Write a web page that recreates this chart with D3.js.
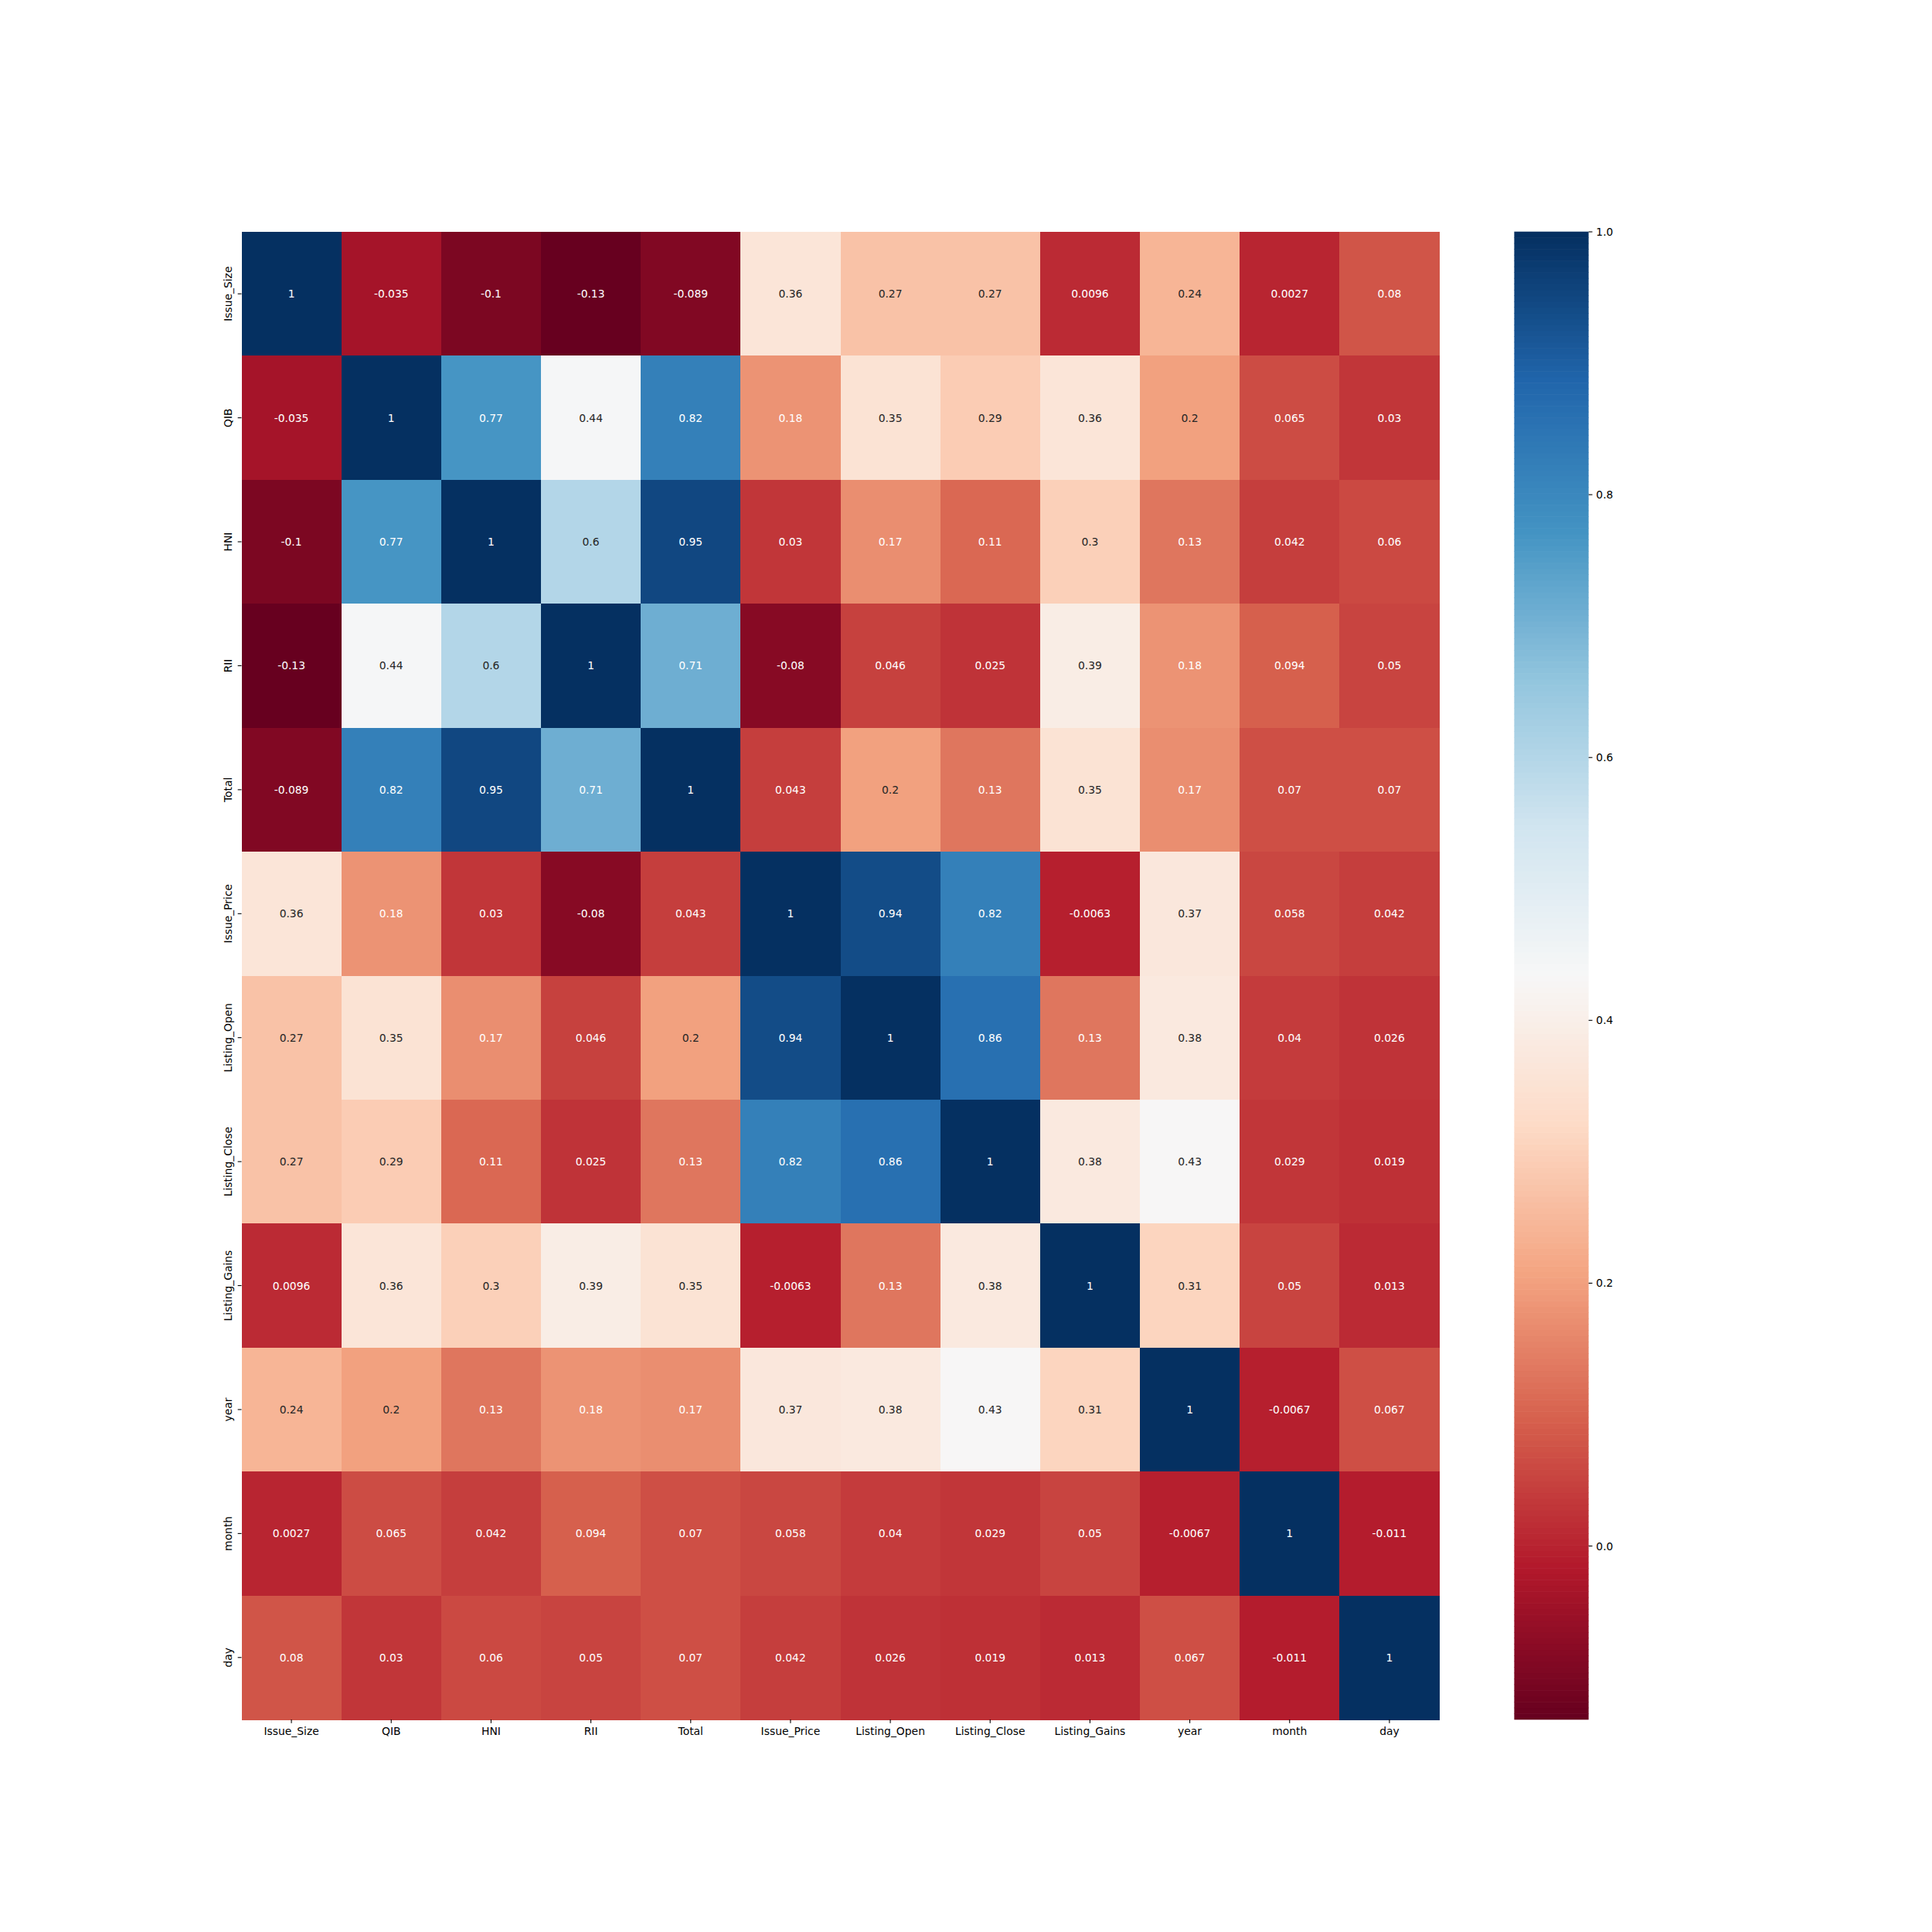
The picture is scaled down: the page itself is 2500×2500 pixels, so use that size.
<!DOCTYPE html>
<html>
<head>
<meta charset="utf-8">
<script src="https://cdn.jsdelivr.net/npm/d3@7"></script>
<style>
  html, body { margin: 0; padding: 0; background: #ffffff; }
  svg { display: block; }
  text { font-family: "DejaVu Sans", sans-serif; }
</style>
</head>
<body>
<script>
// ---------------- data ----------------
const labels = ["Issue_Size", "QIB", "HNI", "RII", "Total", "Issue_Price",
  "Listing_Open", "Listing_Close", "Listing_Gains", "year", "month", "day"];

const rowIssueSize    = [1, -0.035, -0.1, -0.132, -0.089, 0.36, 0.27, 0.27, 0.0096, 0.24, 0.0027, 0.08];
const rowQIB          = [-0.035, 1, 0.77, 0.44, 0.82, 0.18, 0.35, 0.29, 0.36, 0.2, 0.065, 0.03];
const rowHNI          = [-0.1, 0.77, 1, 0.6, 0.95, 0.03, 0.17, 0.11, 0.3, 0.13, 0.042, 0.06];
const rowRII          = [-0.132, 0.44, 0.6, 1, 0.71, -0.08, 0.046, 0.025, 0.39, 0.18, 0.094, 0.05];
const rowTotal        = [-0.089, 0.82, 0.95, 0.71, 1, 0.043, 0.2, 0.13, 0.35, 0.17, 0.07, 0.07];
const rowIssuePrice   = [0.36, 0.18, 0.03, -0.08, 0.043, 1, 0.94, 0.82, -0.0063, 0.37, 0.058, 0.042];
const rowListingOpen  = [0.27, 0.35, 0.17, 0.046, 0.2, 0.94, 1, 0.86, 0.13, 0.38, 0.04, 0.026];
const rowListingClose = [0.27, 0.29, 0.11, 0.025, 0.13, 0.82, 0.86, 1, 0.38, 0.43, 0.029, 0.019];
const rowListingGains = [0.0096, 0.36, 0.3, 0.39, 0.35, -0.0063, 0.13, 0.38, 1, 0.31, 0.05, 0.013];
const rowYear         = [0.24, 0.2, 0.13, 0.18, 0.17, 0.37, 0.38, 0.43, 0.31, 1, -0.0067, 0.067];
const rowMonth        = [0.0027, 0.065, 0.042, 0.094, 0.07, 0.058, 0.04, 0.029, 0.05, -0.0067, 1, -0.011];
const rowDay          = [0.08, 0.03, 0.06, 0.05, 0.07, 0.042, 0.026, 0.019, 0.013, 0.067, -0.011, 1];

const matrix = [rowIssueSize, rowQIB, rowHNI, rowRII, rowTotal, rowIssuePrice,
  rowListingOpen, rowListingClose, rowListingGains, rowYear, rowMonth, rowDay];

const colorbarTicks = [0.0, 0.2, 0.4, 0.6, 0.8, 1.0];

// RdBu colormap anchor colours (matplotlib)
const rdbu = ["#67001f", "#b2182b", "#d6604d", "#f4a582", "#fddbc7", "#f7f7f7",
  "#d1e5f0", "#92c5de", "#4393c3", "#2166ac", "#053061"];

// ---------------- layout ----------------
const W = 2500, H = 2500;
const plotLeft = 312.5, plotTop = 300, plotWidth = 1550, plotHeight = 1925;
const cbLeft = 1959.4, cbWidth = 96.25;
const fontSize = 13.89;
const tickLen = 4.86, tickPad = 4.86;

const svg = d3.select("body").append("svg").attr("width", W).attr("height", H);
svg.append("rect").attr("width", W).attr("height", H).attr("fill", "#ffffff");

const flat = matrix.flat();
const vmin = d3.min(flat), vmax = d3.max(flat);

const lin = d3.scaleLinear()
  .domain(d3.range(rdbu.length).map(i => i / (rdbu.length - 1)))
  .range(rdbu)
  .interpolate(d3.interpolateRgb);
const N = 256;
function cmap(v) {
  let t = (v - vmin) / (vmax - vmin);
  let idx = Math.floor(t * N);
  idx = Math.max(0, Math.min(N - 1, idx));
  return lin(idx / (N - 1));
}
function luminance(c) {
  const rgb = d3.rgb(c);
  const f = x => { x /= 255; return x <= 0.03928 ? x / 12.92 : Math.pow((x + 0.055) / 1.055, 2.4); };
  return 0.2126 * f(rgb.r) + 0.7152 * f(rgb.g) + 0.0722 * f(rgb.b);
}

const xScale = d3.scaleBand().domain(labels).range([plotLeft, plotLeft + plotWidth]);
const yScale = d3.scaleBand().domain(labels).range([plotTop, plotTop + plotHeight]);

const fmt = d3.format(".2~g");
const fmtAnnot = v => fmt(v).replace("\u2212", "-");

const cells = [];
matrix.forEach((row, i) => row.forEach((v, j) => cells.push({ r: labels[i], c: labels[j], v })));

svg.append("g").selectAll("rect").data(cells).join("rect")
  .attr("x", d => xScale(d.c))
  .attr("y", d => yScale(d.r))
  .attr("width", xScale.bandwidth() + 0.5)
  .attr("height", yScale.bandwidth() + 0.5)
  .attr("fill", d => cmap(d.v))
  .attr("shape-rendering", "crispEdges");

svg.append("g").selectAll("text").data(cells).join("text")
  .attr("x", d => xScale(d.c) + xScale.bandwidth() / 2)
  .attr("y", d => yScale(d.r) + yScale.bandwidth() / 2)
  .attr("text-anchor", "middle")
  .attr("dominant-baseline", "central")
  .attr("font-size", fontSize)
  .attr("fill", d => luminance(cmap(d.v)) > 0.408 ? "#262626" : "#ffffff")
  .text(d => fmtAnnot(d.v));

// x axis ticks
const xg = svg.append("g");
labels.forEach(l => {
  const cx = xScale(l) + xScale.bandwidth() / 2;
  xg.append("line").attr("x1", cx).attr("x2", cx)
    .attr("y1", plotTop + plotHeight).attr("y2", plotTop + plotHeight + tickLen)
    .attr("stroke", "#000").attr("stroke-width", 1.1);
  xg.append("text").attr("x", cx).attr("y", plotTop + plotHeight + tickLen + tickPad + 0.76 * fontSize)
    .attr("text-anchor", "middle").attr("font-size", fontSize).attr("fill", "#000")
    .text(l);
});

// y axis ticks
const yg = svg.append("g");
labels.forEach(l => {
  const cy = yScale(l) + yScale.bandwidth() / 2;
  yg.append("line").attr("x1", plotLeft - tickLen).attr("x2", plotLeft)
    .attr("y1", cy).attr("y2", cy)
    .attr("stroke", "#000").attr("stroke-width", 1.1);
  const tx = plotLeft - tickLen - tickPad - 0.236 * fontSize;
  yg.append("text")
    .attr("transform", `translate(${tx},${cy}) rotate(-90)`)
    .attr("text-anchor", "middle").attr("font-size", fontSize).attr("fill", "#000")
    .text(l);
});

// colorbar
const cbScale = d3.scaleLinear().domain([vmin, vmax]).range([plotTop + plotHeight, plotTop]);
const steps = d3.range(N).map(i => vmin + (vmax - vmin) * (i + 0.5) / N);
const stepH = plotHeight / N;
svg.append("g").selectAll("rect").data(steps).join("rect")
  .attr("x", cbLeft)
  .attr("y", d => cbScale(d) - stepH / 2 - 0.3)
  .attr("width", cbWidth)
  .attr("height", stepH + 0.6)
  .attr("fill", d => cmap(d));

const cbg = svg.append("g");
colorbarTicks.forEach(t => {
  const ty = cbScale(t);
  cbg.append("line").attr("x1", cbLeft + cbWidth).attr("x2", cbLeft + cbWidth + tickLen)
    .attr("y1", ty).attr("y2", ty).attr("stroke", "#000").attr("stroke-width", 1.1);
  cbg.append("text").attr("x", cbLeft + cbWidth + tickLen + tickPad)
    .attr("y", ty).attr("dominant-baseline", "central")
    .attr("font-size", fontSize).attr("fill", "#000")
    .text(d3.format(".1f")(t));
});
</script>
</body>
</html>
